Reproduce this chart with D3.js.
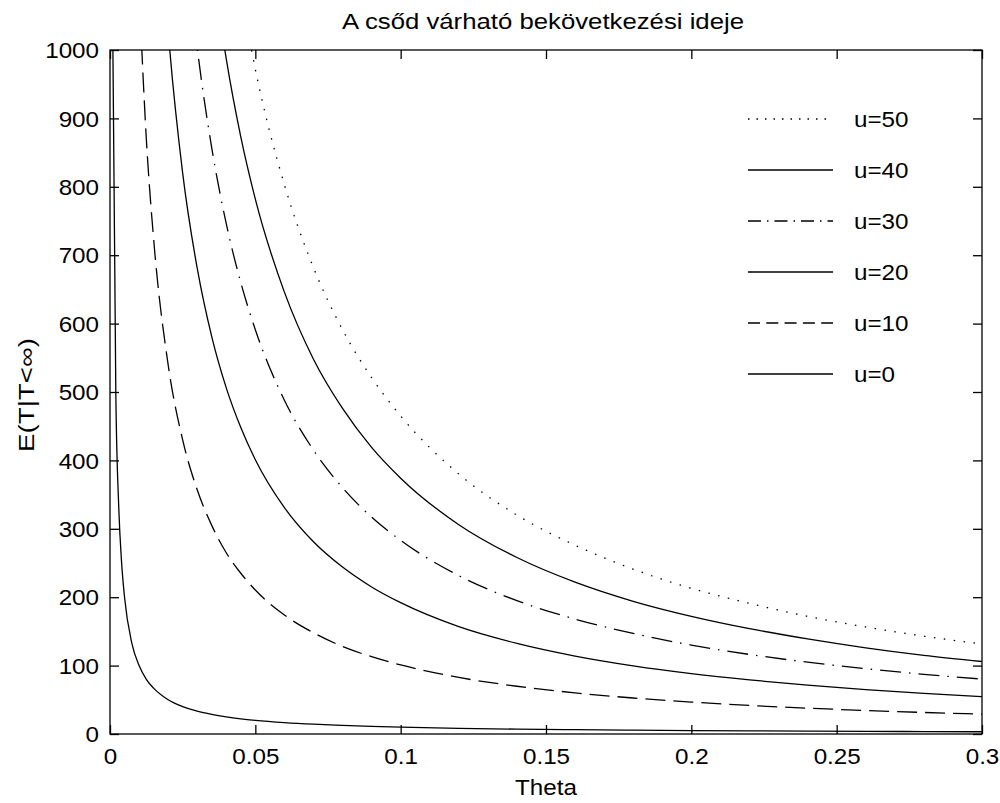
<!DOCTYPE html>
<html>
<head>
<meta charset="utf-8">
<script src="https://d3js.org/d3.v7.min.js"></script>
<style>
  html, body { margin: 0; padding: 0; background: #fff; }
  svg { display: block; }
  text { font-family: "Liberation Sans", Arial, sans-serif; fill: #000; }
</style>
</head>
<body>
<svg id="chart" width="1000" height="803"></svg>
<script>
// ---- data ----
const theta = [0.001,0.002,0.003,0.004,0.005,0.0075,0.01,0.0125,0.015,0.02,0.025,0.03,0.035,0.04,0.045,0.05,0.06,0.07,0.08,0.09,0.10,0.12,0.14,0.16,0.18,0.20,0.22,0.24,0.26,0.28,0.30];
const u0  = [1000,500,333,250,200,133,100,80,67,50,40,33.3,28.6,25,22.2,20,16.7,14.3,12.5,11.1,10,8.3,7.1,6.3,5.6,5,4.5,4.2,3.8,3.6,3.3];
const u10 = [null,null,null,null,null,null,1090,870,724,540,430,357,305,265,235,210.5,174,148,128,113,101,82.7,69.8,60.1,52.6,46.7,41.8,37.8,34.4,31.5,29.0];
const u20 = [null,null,null,null,null,null,null,null,1380,1030,820,681,581,506,448,401,331,281,244,215,192,157,132.5,114,99.7,88.3,79.1,71.4,64.9,59.4,54.6];
const u30 = [null,null,null,null,null,null,null,null,null,null,1211,1004,857,746,660,591,488,415,360,317,283,231.5,195,168,147,130,116.3,105,95.4,87.3,80.3];
const u40 = [null,null,null,null,null,null,null,null,null,null,null,null,1133,987,873,782,646,548,476,419,374,306,258,222,194,172,154,139,126,115,106];
const u50 = [null,null,null,null,null,null,null,null,null,null,null,null,null,null,1086,972,803,682,591,521,465,380,320,276,241,213,191,172,156.5,143,131.5];

const seriesNames  = ["u=50","u=40","u=30","u=20","u=10","u=0"];
const seriesValues = [u50, u40, u30, u20, u10, u0];
const seriesStyles = ["dotted","solid","dashdot","solid","dashed","solid"];

const xTicks = [0,0.05,0.1,0.15,0.2,0.25,0.3];
const xTickLabels = ["0","0.05","0.1","0.15","0.2","0.25","0.3"];
const yTicks = [0,100,200,300,400,500,600,700,800,900,1000];

const titleText = "A csőd várható bekövetkezési ideje";
const xLabelText = "Theta";
const yLabelText = "E(T|T<∞)";

// ---- layout ----
const L = 110, R = 982, T = 50, B = 734;
const svg = d3.select("#chart");
svg.append("rect").attr("width",1000).attr("height",803).attr("fill","#fff");

const x = d3.scaleLinear().domain([0,0.3]).range([L,R]);
const y = d3.scaleLinear().domain([0,1000]).range([B,T]);

const mainDash = {solid:null, dashed:"20,8", dashdot:"21,8,1.5,8", dotted:"1.5,8.5"};
const legDash  = {solid:null, dashed:"12,6.3", dashdot:"13,6,1.5,6", dotted:"1.5,7"};

svg.append("clipPath").attr("id","clip")
  .append("rect").attr("x",L).attr("y",T).attr("width",R-L).attr("height",B-T);

// curves
const line = d3.line()
  .defined(d => d[1] != null)
  .x(d => x(d[0])).y(d => y(d[1]))
  .curve(d3.curveMonotoneX);

const g = svg.append("g").attr("clip-path","url(#clip)");
seriesValues.forEach((vals, i) => {
  const pts = theta.map((t, j) => [t, vals[j]]);
  g.append("path")
    .attr("d", line(pts))
    .attr("fill","none")
    .attr("stroke","#000")
    .attr("stroke-width",1.3)
    .attr("stroke-dasharray", mainDash[seriesStyles[i]]);
});

// axes box with inward ticks on all sides
const fontSize = 22, sx = 1.1;
svg.append("rect").attr("x",L).attr("y",T).attr("width",R-L).attr("height",B-T)
  .attr("fill","none").attr("stroke","#000").attr("stroke-width",1.3);

const tl = 9;
const bottomAxis = d3.axisBottom(x).tickValues(xTicks).tickSize(-tl).tickFormat((d,i) => xTickLabels[i]).tickPadding(tl+6);
const topAxis = d3.axisTop(x).tickValues(xTicks).tickSize(-tl).tickFormat("");
const leftAxis = d3.axisLeft(y).tickValues(yTicks).tickSize(-tl).tickFormat(d3.format("d")).tickPadding(tl+2);
const rightAxis = d3.axisRight(y).tickValues(yTicks).tickSize(-tl).tickFormat("");

function styleAxis(sel) {
  sel.select(".domain").remove();
  sel.selectAll(".tick line").attr("stroke","#000").attr("stroke-width",1.3);
  sel.selectAll(".tick text")
    .attr("font-family","Liberation Sans, Arial, sans-serif")
    .attr("font-size",fontSize).attr("fill","#000");
}
const gb = svg.append("g").attr("transform",`translate(0,${B})`).call(bottomAxis).call(styleAxis);
gb.selectAll(".tick text").each(function(){
  const t = d3.select(this);
  const yy = +t.attr("y");
  t.attr("y",null).attr("dy",null)
   .attr("transform",`translate(0,${yy+15}) scale(${sx},1)`);
});
svg.append("g").attr("transform",`translate(0,${T})`).call(topAxis).call(styleAxis);
const gl = svg.append("g").attr("transform",`translate(${L},0)`).call(leftAxis).call(styleAxis);
gl.selectAll(".tick text").each(function(){
  const t = d3.select(this);
  const xx = +t.attr("x");
  t.attr("x",null).attr("dy","0.35em")
   .attr("transform",`translate(${xx},0) scale(${sx},1)`);
});
svg.append("g").attr("transform",`translate(${R},0)`).call(rightAxis).call(styleAxis);

// title and labels
svg.append("text").attr("text-anchor","middle").attr("font-size",fontSize)
  .attr("transform",`translate(543,29) scale(1.17,1)`).text(titleText);
svg.append("text").attr("text-anchor","middle").attr("font-size",fontSize)
  .attr("transform",`translate(546,795) scale(${sx},1)`).text(xLabelText);
svg.append("text").attr("text-anchor","middle").attr("font-size",fontSize)
  .attr("textLength",114).attr("lengthAdjust","spacingAndGlyphs")
  .attr("transform","translate(34,395) rotate(-90)").text(yLabelText);

// legend (no box)
const legY0 = 119, legStep = 51, lx0 = 748, lx1 = 833, ltx = 854;
seriesNames.forEach((name, i) => {
  const yy = legY0 + i*legStep;
  svg.append("line").attr("x1",lx0).attr("x2",lx1).attr("y1",yy).attr("y2",yy)
    .attr("stroke","#000").attr("stroke-width",1.3)
    .attr("stroke-dasharray", legDash[seriesStyles[i]]);
  svg.append("text").attr("font-size",fontSize).attr("dy","0.35em")
    .attr("transform",`translate(${ltx},${yy}) scale(${sx},1)`).text(name);
});
</script>
</body>
</html>
